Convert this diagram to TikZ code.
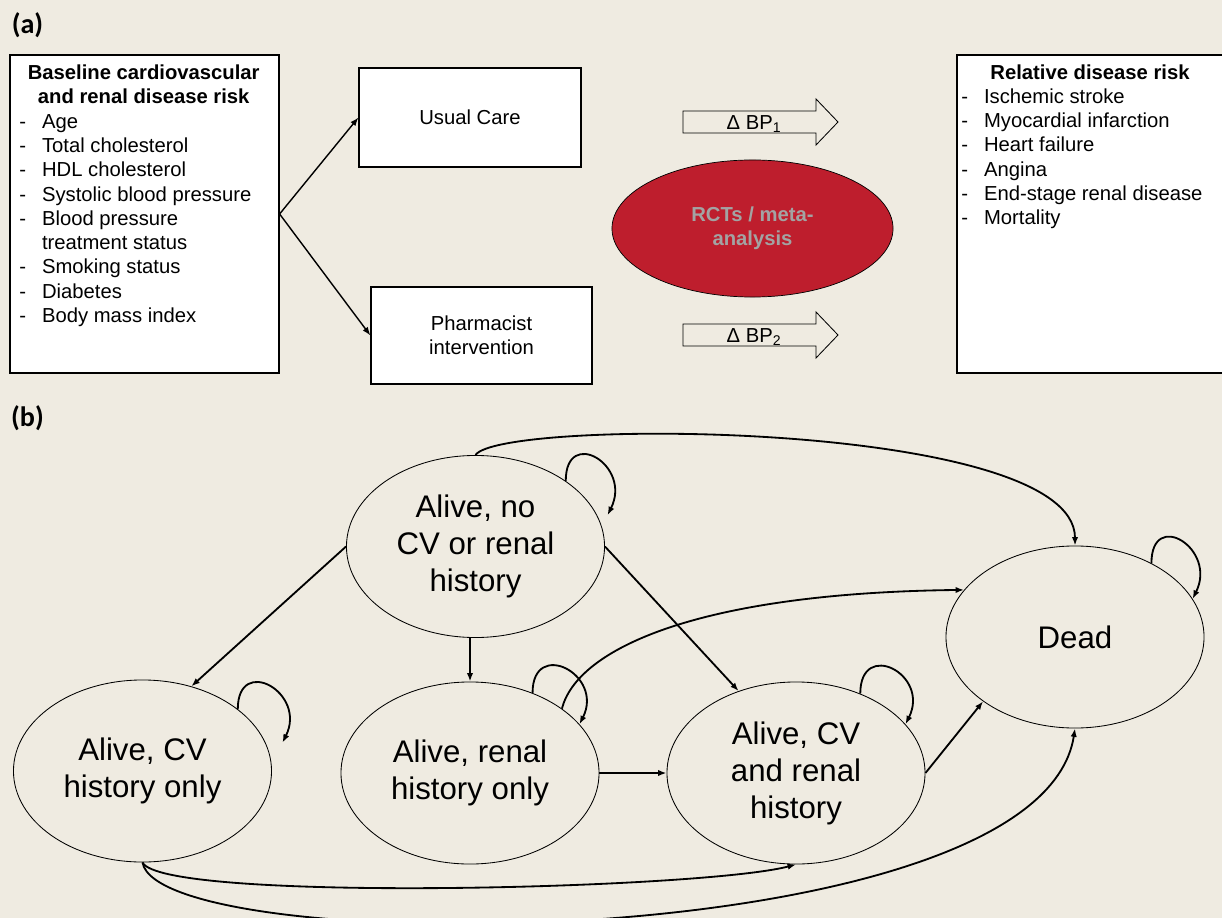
\documentclass[tikz,border=0pt]{standalone}
\usepackage{fontspec}
\setmainfont{Liberation Sans}
\newfontfamily\panelfont{Carlito}
\usetikzlibrary{shapes.geometric,arrows.meta}

\definecolor{paper}{HTML}{EFEBE1}
\definecolor{rctred}{HTML}{BE1E2D}
\definecolor{rctgrey}{HTML}{A3A3A3}

\tikzset{
  box/.style={draw, fill=white, line width=0.8pt, inner sep=0pt},
  listtext/.style={font=\fontsize{14.4}{17.25}\selectfont, inner sep=0pt},
  headtext/.style={font=\bfseries\fontsize{14.4}{16.6}\selectfont, inner sep=0pt},
  panel/.style={font=\panelfont\bfseries\fontsize{20}{24}\selectfont, inner sep=0pt},
  state/.style={ellipse, draw, line width=0.6pt, minimum width=6.45cm,
    minimum height=4.55cm, inner sep=0pt, align=center,
    font=\fontsize{22.2}{26.3}\selectfont},
  link/.style={-{Latex[length=6pt,width=4.5pt]}, line width=1pt},
  trans/.style={-{Latex[length=6pt,width=4.5pt]}, line width=1.3pt},
  selfloop/.style={to path={.. controls +(0,-55) and +(25,-50) .. (\tikztotarget)}},
}

\begin{document}
\begin{tikzpicture}[x=0.025cm, y=-0.025cm]
\useasboundingbox (0,0) rectangle (1222,918);
\fill[paper] (0,0) rectangle (1222,918);

% (a) model inputs
\node[panel] (lbla) at (27.5,25) {(a)};

\node[box, minimum width=6.725cm, minimum height=7.95cm] (base) at (144.5,214) {};
\node[headtext, anchor=base] (basehead) at (143.7,80)
  {\begin{tabular}[t]{@{}c@{}}Baseline cardiovascular\\and renal disease risk\end{tabular}};
\node[listtext, anchor=base west] (baselist) at (19,128.3)
  {\begin{tabular}[t]{@{}p{16.2pt}@{}l@{}}
  - & Age\\
  - & Total cholesterol\\
  - & HDL cholesterol\\
  - & Systolic blood pressure\\
  - & Blood pressure\\
    & treatment status\\
  - & Smoking status\\
  - & Diabetes\\
  - & Body mass index
  \end{tabular}};

\node[box, minimum width=5.55cm, minimum height=2.475cm, font=\fontsize{14.4}{17.25}\selectfont]
  (usual) at (470,117.5) {Usual Care};
\node[box, minimum width=5.525cm, minimum height=2.425cm, align=center,
  font=\fontsize{14.4}{17.25}\selectfont] (pharm) at (481.5,335.5) {Pharmacist\\intervention};

\draw[link] (base.east) -- (usual.west);
\draw[link] (base.east) -- (pharm.west);

% blood pressure change
\foreach \y/\k in {122/1, 335/2} {
  \draw[line width=0.6pt] (683,\y-11) -- (816,\y-11) -- (816,\y-23) -- (838,\y)
    -- (816,\y+23) -- (816,\y+11) -- (683,\y+11) -- cycle;
  \node[listtext, anchor=base] (dbp\k) at (754,\y+7.3) {Δ BP\textsubscript{\k}};
}

\node[ellipse, draw, line width=0.5pt, fill=rctred, minimum width=7.025cm,
  minimum height=3.425cm, inner sep=0pt, align=center, text=rctgrey,
  font=\bfseries\fontsize{14.4}{16.9}\selectfont] (rct) at (752.5,228.5) {RCTs / meta-\\analysis};

\node[box, minimum width=7.075cm, minimum height=7.95cm] (risk) at (1098.5,214) {};
\node[headtext, anchor=base] (riskhead) at (1090,79.3) {Relative disease risk};
\node[listtext, anchor=base west] (risklist) at (961,103.3)
  {\begin{tabular}[t]{@{}p{16.2pt}@{}l@{}}
  - & Ischemic stroke\\
  - & Myocardial infarction\\
  - & Heart failure\\
  - & Angina\\
  - & End-stage renal disease\\
  - & Mortality
  \end{tabular}};

% (b) Markov states
\node[panel] (lblb) at (27.5,418) {(b)};

\node[state] (s0) at (475.5,546.5) {Alive, no\\CV or renal\\history};
\node[state] (s1) at (142.5,771) {Alive, CV\\history only};
\node[state] (s2) at (470,773) {Alive, renal\\history only};
\node[state] (s3) at (796,773) {Alive, CV\\and renal\\history};
\node[state] (dead) at (1075,637) {Dead};

\draw[trans] (s0.north) .. controls +(24,-37) and +(0,-126) .. (dead.north);
\draw[trans] (s0.west) -- (s1.60);
\draw[trans] (s2.north |- s0.south) -- (s2.north);
\draw[trans] (s0.east) -- (s3.125);
\draw[trans] (s2.east) -- (s3.west);
\draw[trans] (s3.east) -- (dead.215);
\draw[trans] (s2.35) .. controls +(15,-59) and +(-268,3) .. (dead.157);
\draw[trans] (s1.south) .. controls +(20,40) and +(-95,25) .. (s3.south);
\draw[trans] (s1.south) .. controls +(17,98) and +(-35,229) .. (dead.south);

\draw[trans] (s0.36) to[selfloop] ([shift={(9,-3)}]s0.13);
\draw[trans] (s1.33) to[selfloop] ([shift={(16,-2)}]s1.12);
\draw[trans] (s2.52) to[selfloop] (s2.24);
\draw[trans] (s3.51) to[selfloop] (s3.24);
\draw[trans] (dead.44) to[selfloop] (dead.18);
\end{tikzpicture}
\end{document}
